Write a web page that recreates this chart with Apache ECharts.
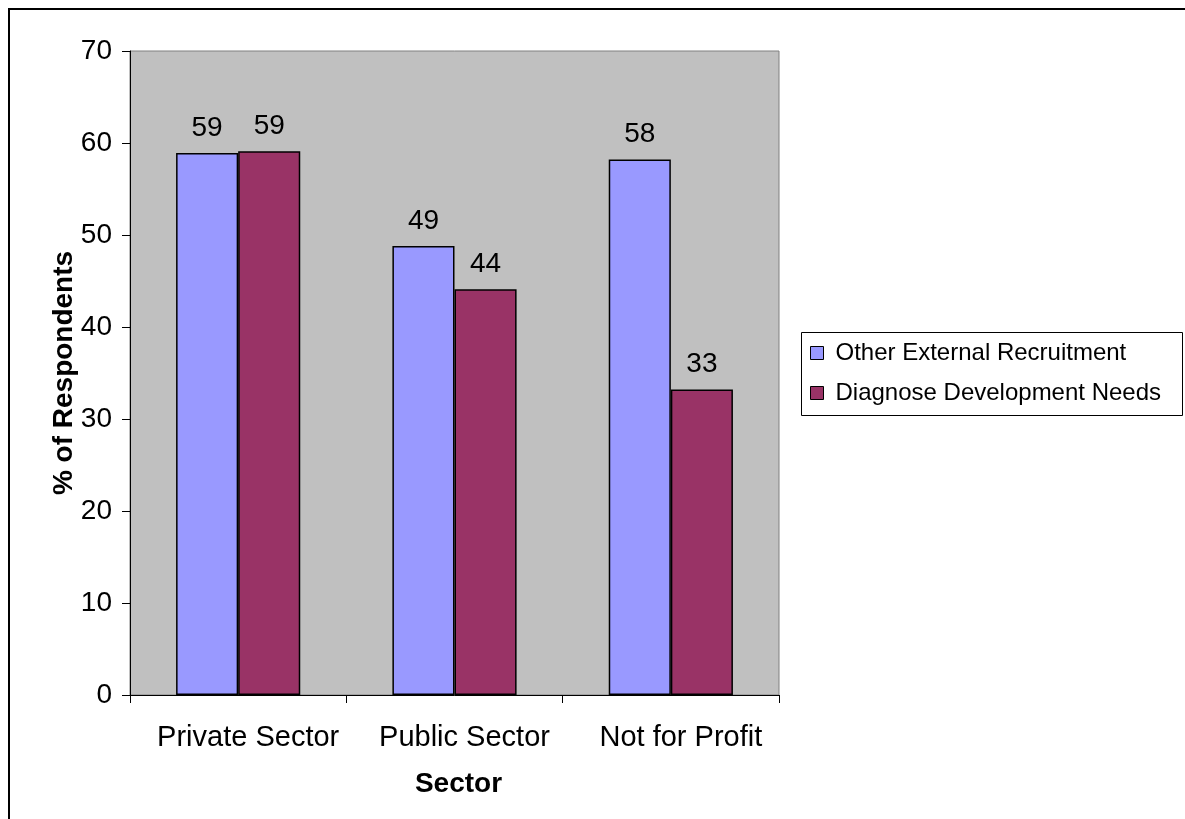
<!DOCTYPE html>
<html>
<head>
<meta charset="utf-8">
<title>% of Respondents by Sector</title>
<script src="https://cdn.jsdelivr.net/npm/echarts@6/dist/echarts.min.js"></script>
<style>
  html, body { margin: 0; padding: 0; background: #ffffff; }
  #chart { width: 1185px; height: 819px; }
</style>
</head>
<body>
<div id="chart"></div>
<script>
// Sector categories and the share of respondents for each method
var sectors = ['Private Sector', 'Public Sector', 'Not for Profit'];
var seriesNames = ['Other External Recruitment', 'Diagnose Development Needs'];
var otherExternalRecruitment = [58.9, 48.8, 58.2];
var diagnoseDevelopmentNeeds = [59.1, 44.1, 33.2];
var yTicks = [0, 10, 20, 30, 40, 50, 60, 70];

var FONT = '"Liberation Sans", Arial, sans-serif';

var chart = echarts.init(document.getElementById('chart'), null, { renderer: 'canvas' });

function barSeries(name, values, color) {
  return {
    name: name,
    type: 'bar',
    data: values,
    barGap: '0%',
    barCategoryGap: '42.6%',
    itemStyle: { color: color, borderColor: '#000000', borderWidth: 1.5 },
    label: {
      show: true,
      position: 'top',
      distance: 11,
      color: '#000000',
      fontFamily: FONT,
      fontSize: 28,
      formatter: function (p) { return Math.round(p.value); }
    },
    emphasis: { disabled: true }
  };
}

chart.setOption({
  animation: false,
  backgroundColor: '#ffffff',
  textStyle: { fontFamily: FONT },
  grid: {
    left: 130, top: 51, right: 406, bottom: 124,
    show: true,
    backgroundColor: '#C0C0C0',
    borderColor: '#808080',
    borderWidth: 1
  },
  legend: {
    orient: 'vertical',
    left: 810,
    top: 341,
    itemWidth: 13,
    itemHeight: 13,
    itemGap: 16,
    padding: 0,
    icon: 'rect',
    selectedMode: false,
    data: seriesNames,
    itemStyle: { borderColor: '#000000', borderWidth: 1 },
    textStyle: { fontFamily: FONT, fontSize: 24, color: '#000000', padding: [0, 0, 0, 7] }
  },
  graphic: [
    {
      // frame around the whole chart
      type: 'rect',
      silent: true,
      shape: { x: 9, y: 9, width: 1200, height: 840 },
      style: { fill: 'none', stroke: '#000000', lineWidth: 2 }
    },
    {
      // legend frame
      type: 'rect',
      silent: true,
      shape: { x: 801.5, y: 332.5, width: 381, height: 83 },
      style: { fill: '#ffffff', stroke: '#000000', lineWidth: 1 },
      z: -1
    }
  ],
  xAxis: {
    type: 'category',
    data: sectors,
    name: 'Sector',
    nameLocation: 'middle',
    nameGap: 75,
    nameMoveOverlap: false,
    nameTextStyle: { fontFamily: FONT, fontSize: 28, fontWeight: 'bold', color: '#000000', padding: [0, 0, 0, 8] },
    axisLine: { lineStyle: { color: '#000000', width: 1 } },
    axisTick: { show: true, length: 8, lineStyle: { color: '#000000' } },
    axisLabel: { interval: 0, margin: 28, fontFamily: FONT, fontSize: 29, color: '#000000', padding: [0, 0, 0, 20] },
    splitLine: { show: false }
  },
  yAxis: {
    type: 'value',
    min: yTicks[0],
    max: yTicks[yTicks.length - 1],
    interval: 10,
    name: '% of Respondents',
    nameLocation: 'middle',
    nameGap: 52,
    nameRotate: 90,
    nameMoveOverlap: false,
    nameTextStyle: { fontFamily: FONT, fontSize: 28, fontWeight: 'bold', color: '#000000' },
    axisLine: { show: true, lineStyle: { color: '#000000', width: 1 } },
    axisTick: { show: true, length: 8, lineStyle: { color: '#000000' } },
    axisLabel: { margin: 18, fontFamily: FONT, fontSize: 28, color: '#000000' },
    splitLine: { show: false }
  },
  series: [
    barSeries(seriesNames[0], otherExternalRecruitment, '#9999FF'),
    barSeries(seriesNames[1], diagnoseDevelopmentNeeds, '#993366')
  ]
});
</script>
</body>
</html>
